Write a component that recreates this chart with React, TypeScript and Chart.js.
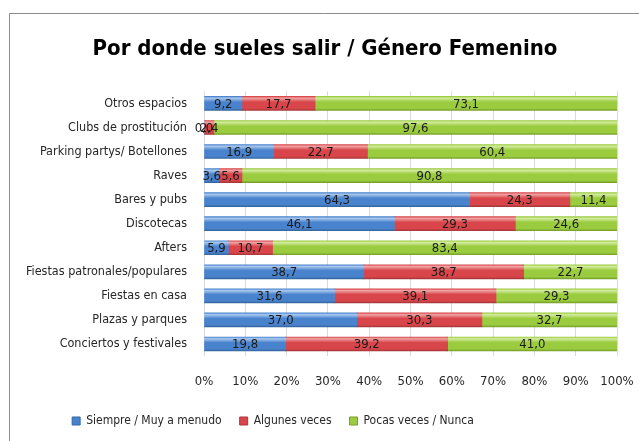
import React, { useEffect, useRef } from "react";
import { Chart, registerables } from "chart.js";

Chart.register(...registerables);

const categories = [
  "Otros espacios",
  "Clubs de prostitución",
  "Parking partys/ Botellones",
  "Raves",
  "Bares y pubs",
  "Discotecas",
  "Afters",
  "Fiestas patronales/populares",
  "Fiestas en casa",
  "Plazas y parques",
  "Conciertos y festivales",
];
const seriesNames = ["Siempre / Muy a menudo", "Algunes veces", "Pocas veces / Nunca"];
const siempre = [9.2, 0.0, 16.9, 3.6, 64.3, 46.1, 5.9, 38.7, 31.6, 37.0, 19.8];
const algunes = [17.7, 2.4, 22.7, 5.6, 24.3, 29.3, 10.7, 38.7, 39.1, 30.3, 39.2];
const pocas = [73.1, 97.6, 60.4, 90.8, 11.4, 24.6, 83.4, 22.7, 29.3, 32.7, 41.0];
const xTicks = [0, 10, 20, 30, 40, 50, 60, 70, 80, 90, 100];

const FONT = "'DejaVu Sans Condensed', 'Liberation Sans', sans-serif";

const palettes = [
  { base: "#4a83cd", light: "#a9c8ee", dark: "#35669f" },
  { base: "#d8454a", light: "#f0a3a3", dark: "#a8383a" },
  { base: "#9bcb3f", light: "#d2ec9e", dark: "#78a02c" },
];

function gradientFor(pIdx: number) {
  return (ctx: any) => {
    const chart = ctx.chart;
    const p = palettes[pIdx];
    const yScale = chart.scales && chart.scales.y;
    if (!yScale || ctx.dataIndex === undefined) return p.base;
    const yc = yScale.getPixelForValue(ctx.dataIndex);
    if (!isFinite(yc)) return p.base;
    const g = chart.ctx.createLinearGradient(0, yc - 7, 0, yc + 7);
    g.addColorStop(0, p.base);
    g.addColorStop(0.12, p.light);
    g.addColorStop(0.4, p.base);
    g.addColorStop(0.85, p.base);
    g.addColorStop(1, p.dark);
    return g;
  };
}

const framePlugin = {
  id: "frame",
  beforeDraw(chart: any) {
    const c = chart.ctx;
    c.save();
    c.fillStyle = "#ffffff";
    c.fillRect(0, 0, chart.width, chart.height);
    c.strokeStyle = "#8c8c8c";
    c.lineWidth = 1;
    c.beginPath();
    c.moveTo(9.5, chart.height + 2);
    c.lineTo(9.5, 13.5);
    c.lineTo(chart.width + 2, 13.5);
    c.stroke();
    c.restore();
  },
};

// shift the title and legend blocks horizontally to their places in the reference
const placementPlugin = {
  id: "placement",
  afterLayout(chart: any) {
    if (chart.titleBlock) {
      chart.titleBlock.left = 11;
      chart.titleBlock.right = 639;
    }
    if (chart.legend) {
      chart.legend.left = 0;
      chart.legend.right = 546;
    }
  },
};

const labelPlugin = {
  id: "valueLabels",
  afterDatasetsDraw(chart: any) {
    const c = chart.ctx;
    c.save();
    c.font = `13px ${FONT}`;
    c.fillStyle = "#1a1a1a";
    c.textAlign = "center";
    c.textBaseline = "middle";
    chart.data.datasets.forEach((ds: any, di: number) => {
      const meta = chart.getDatasetMeta(di);
      meta.data.forEach((el: any, i: number) => {
        const v = ds.data[i];
        const txt = v.toFixed(1).replace(".", ",");
        const x = (el.x + el.base) / 2;
        c.fillText(txt, x, el.y + 1);
      });
    });
    c.restore();
  },
};

export default function App() {
  const ref = useRef<HTMLCanvasElement | null>(null);
  useEffect(() => {
    if (!ref.current) return;
    const chart = new Chart(ref.current, {
      type: "bar",
      data: {
        labels: categories,
        datasets: [
          { label: seriesNames[0], data: siempre, backgroundColor: gradientFor(0), barThickness: 14, borderWidth: 0 },
          { label: seriesNames[1], data: algunes, backgroundColor: gradientFor(1), barThickness: 14, borderWidth: 0 },
          { label: seriesNames[2], data: pocas, backgroundColor: gradientFor(2), barThickness: 14, borderWidth: 0 },
        ],
      },
      options: {
        indexAxis: "y",
        responsive: false,
        animation: false,
        maintainAspectRatio: false,
        layout: { padding: { left: 0, right: 22, top: 0, bottom: 4 } },
        scales: {
          x: {
            stacked: true,
            min: 0,
            max: 100,
            afterBuildTicks: (scale: any) => {
              scale.ticks = xTicks.map((v) => ({ value: v }));
            },
            afterFit: (scale: any) => {
              scale.height = 41;
              scale.paddingLeft = 0;
              scale.paddingRight = 0;
            },
            ticks: {
              callback: (v: any) => `${v}%`,
              color: "#262626",
              font: { family: FONT, size: 13 },
              padding: 18,
              maxRotation: 0,
            },
            grid: { color: "#d9d9d9", drawTicks: false },
            border: { display: false },
          },
          y: {
            stacked: true,
            afterFit: (scale: any) => {
              scale.width = 204;
            },
            ticks: {
              color: "#262626",
              font: { family: FONT, size: 12.5 },
              padding: 17,
              autoSkip: false,
            },
            grid: { display: false, drawTicks: false },
            border: { display: false },
          },
        },
        plugins: {
          title: {
            display: true,
            text: "Por donde sueles salir / Género Femenino",
            color: "#000000",
            font: { family: FONT, size: 22, weight: "bold" },
            padding: { top: 36, bottom: 29 },
          },
          legend: {
            position: "bottom",
            labels: {
              font: { family: FONT, size: 12 },
              color: "#262626",
              boxWidth: 8,
              boxHeight: 8,
              padding: 18,
              generateLabels: (ch: any) =>
                ch.data.datasets.map((ds: any, i: number) => ({
                  text: ds.label,
                  fillStyle: palettes[i].base,
                  strokeStyle: palettes[i].dark,
                  lineWidth: 1,
                  hidden: false,
                  datasetIndex: i,
                  fontColor: "#262626",
                })),
            },
          },
          tooltip: { enabled: false },
        },
      },
      plugins: [framePlugin, placementPlugin, labelPlugin],
    });
    return () => chart.destroy();
  }, []);
  return (
    <div style={{ position: "fixed", left: 0, top: 0, width: 639, height: 441 }}>
      <canvas ref={ref} width={639} height={441} style={{ width: 639, height: 441, display: "block" }} />
    </div>
  );
}
